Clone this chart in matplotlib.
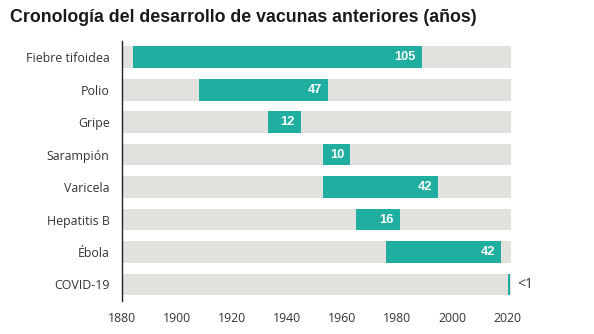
import matplotlib
matplotlib.use("Agg")
import matplotlib.pyplot as plt

# Vaccine development timelines: first year of research and years until approval
vaccines = ["Fiebre tifoidea", "Polio", "Gripe", "Sarampión", "Varicela",
            "Hepatitis B", "Ébola", "COVID-19"]
start_year = [1884, 1908, 1933, 1953, 1953, 1965, 1976, 2020.4]
duration = [105, 47, 12, 10, 42, 16, 42, 0.9]
value_labels = ["105", "47", "12", "10", "42", "16", "42", "<1"]
year_ticks = [1880, 1900, 1920, 1940, 1960, 1980, 2000, 2020]

TEAL = "#1FAE9F"
TRACK = "#E3E1DD"
TEXT = "#333333"

fig = plt.figure(figsize=(5.94, 3.34), dpi=100)
ax = fig.add_axes([0.2054, 0.0997, 0.6549, 0.7775])

x_min, x_max = 1880, 2021.5
rows = list(range(len(vaccines)))

# full-width background tracks
ax.barh(rows, [x_max - x_min] * len(rows), left=x_min, height=0.667,
        color=TRACK, zorder=1)
# development period bars
ax.barh(rows, duration, left=start_year, height=0.667, color=TEAL, zorder=2)

for r, s, d, lab in zip(rows, start_year, duration, value_labels):
    end = s + d
    if d >= 5:
        ax.annotate(lab, xy=(end, r), xytext=(-6, 0), textcoords="offset pixels",
                    ha="right", va="center", color="white", fontsize=9.3,
                    fontweight="bold", family="Liberation Sans", zorder=3)
    else:
        ax.annotate(lab, xy=(end, r), xytext=(7, 0), textcoords="offset pixels",
                    ha="left", va="center", color=TEXT, fontsize=10,
                    family="Open Sans", zorder=3)

ax.set_xlim(x_min, x_max)
ax.set_ylim(len(rows) - 0.5, -0.5)
ax.set_xticks(year_ticks)
ax.set_xticklabels([str(y) for y in year_ticks], family="Open Sans",
                   fontsize=8.8, color=TEXT)
ax.set_yticks(rows)
ax.set_yticklabels(vaccines, family="Open Sans", fontsize=8.9, color=TEXT)
ax.tick_params(axis="x", length=0, pad=8)
ax.tick_params(axis="y", length=0, pad=9)

for side in ("top", "right", "bottom"):
    ax.spines[side].set_visible(False)
ax.spines["left"].set_color("#222222")
ax.spines["left"].set_linewidth(1.0)
ax.spines["left"].set_zorder(4)

fig.text(0.016, 0.948, "Cronología del desarrollo de vacunas anteriores (años)",
         family="Liberation Sans", fontweight="bold", fontsize=12.8,
         color="#1a1a1a", ha="left", va="center")

fig.savefig("out.png", dpi=100)
